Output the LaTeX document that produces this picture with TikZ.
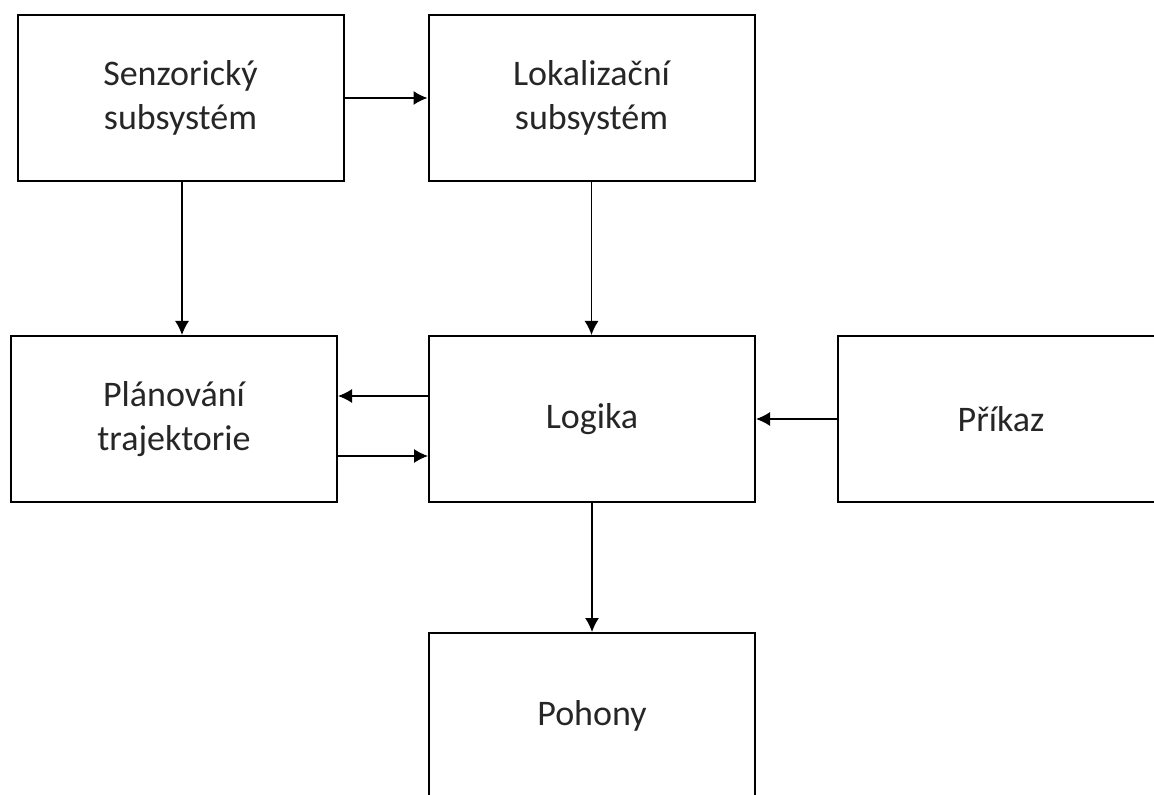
\documentclass[tikz,border=0pt]{standalone}
\usepackage{fontspec}
\setmainfont{Carlito}
\usetikzlibrary{arrows.meta}

\begin{document}
\begin{tikzpicture}[x=0.5pt,y=-0.5pt,line width=1pt]
	\tikzstyle{blok}=[draw,rectangle,minimum width=163pt,minimum height=83pt,inner sep=0pt,align=center,text=black!85,font=\fontsize{18}{22}\selectfont];
	\tikzstyle{sipka}=[line width=0.7pt,-{Latex[length=7pt,width=7pt]}];

	\useasboundingbox (0,0) rectangle (1154,795);

	\node[blok] (senz)   at (180.5,98) {Senzorický\\subsystém};
	\node[blok] (lok)    at (591.5,98) {Lokalizační\\subsystém};
	\node[blok] (plan)   at (174,419)  {Plánování\\trajektorie};
	\node[blok] (logika) at (592,419)  {Logika};
	\node[blok] (prikaz) at (1001,419) {Příkaz};
	\node[blok] (pohony) at (592,716)  {Pohony};

	\draw[sipka] (senz.east) -- (lok.west);
	\draw[sipka] ([xshift=0.75pt]senz.south) -- ([xshift=0.75pt]senz.south |- plan.north);
	\draw[sipka] (lok.south) -- (lok.south |- logika.north);
	\draw[sipka] ([yshift=11.5pt]logika.west) -- ([yshift=11.5pt]plan.east);
	\draw[sipka] ([yshift=-18.5pt]plan.east) -- ([yshift=-18.5pt]logika.west);
	\draw[sipka] (prikaz.west) -- (logika.east);
	\draw[sipka] (logika.south) -- (pohony.north);
\end{tikzpicture}
\end{document}
